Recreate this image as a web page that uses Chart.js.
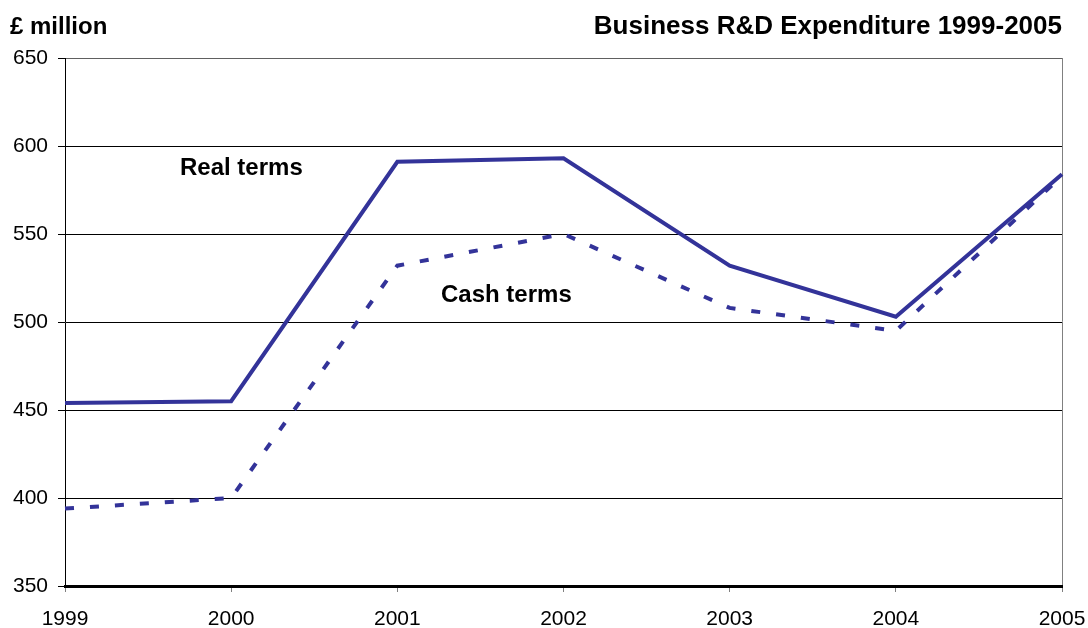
<!DOCTYPE html>
<html>
<head>
<meta charset="utf-8">
<script src="https://cdn.jsdelivr.net/npm/chart.js@4/dist/chart.umd.min.js"></script>
<style>
  html, body { margin: 0; padding: 0; background: #fff; }
  #wrap { width: 1088px; height: 628px; position: relative; }
</style>
</head>
<body>
<div id="wrap"><canvas id="chartCanvas" width="1088" height="628"></canvas></div>
<script>
// Chart data
const years = ['1999', '2000', '2001', '2002', '2003', '2004', '2005'];
const realTerms = [454, 455, 591, 593, 532, 503, 584];
const cashTerms = [394, 400, 532, 550, 508, 495, 583];
const yTicks = [350, 400, 450, 500, 550, 600, 650];

const lineColor = '#333399';
const font = 'Liberation Sans, Arial, sans-serif';

// Draws the titles and the in-plot labels
const textPlugin = {
    id: 'chartText',
    afterDraw(chart) {
        const ctx = chart.ctx;
        const area = chart.chartArea;
        ctx.save();
        ctx.fillStyle = '#000';
        ctx.textBaseline = 'middle';
        ctx.font = 'bold 24px ' + font;
        ctx.textAlign = 'left';
        ctx.fillText('£ million', 10, 27);
        ctx.fillText('Real terms', 180, 168);
        ctx.fillText('Cash terms', 441, 295);
        ctx.font = 'bold 26px ' + font;
        ctx.textAlign = 'right';
        ctx.fillText('Business R&D Expenditure 1999-2005', area.right, 27);
        ctx.restore();
    }
};

const config = {
    type: 'line',
    data: {
        labels: years,
        datasets: [{
            label: 'Real terms',
            data: realTerms,
            borderColor: lineColor,
            borderWidth: 4,
            pointRadius: 0,
            tension: 0,
            fill: false
        }, {
            label: 'Cash terms',
            data: cashTerms,
            borderColor: lineColor,
            borderWidth: 4,
            borderDash: [9, 16],
            pointRadius: 0,
            tension: 0,
            fill: false
        }]
    },
    options: {
        responsive: false,
        animation: false,
        layout: {
            padding: { top: 58, right: 26, left: 0, bottom: 0 }
        },
        plugins: {
            legend: { display: false },
            tooltip: { enabled: false },
            title: { display: false }
        },
        scales: {
            x: {
                offset: false,
                grid: {
                    offset: false,
                    drawOnChartArea: true,
                    color: c => c.index === years.length - 1 ? '#808080' : 'rgba(0,0,0,0)',
                    tickColor: '#808080',
                    tickLength: 6,
                    lineWidth: 1
                },
                border: { color: '#000', width: 3 },
                ticks: {
                    color: '#000',
                    font: { family: font, size: 21 },
                    padding: 15,
                    maxRotation: 0,
                    autoSkip: false
                },
                afterFit: scale => {
                    scale.height = 42;
                    scale.paddingLeft = 0;
                    scale.paddingRight = 0;
                }
            },
            y: {
                min: 350,
                max: 650,
                afterBuildTicks: scale => { scale.ticks = yTicks.map(v => ({ value: v })); },
                grid: {
                    color: c => c.tick && c.tick.value === 650 ? '#606060' : '#000',
                    tickColor: '#000',
                    tickLength: 7,
                    lineWidth: 1
                },
                border: { color: '#000', width: 1 },
                ticks: {
                    color: '#000',
                    font: { family: font, size: 21 },
                    padding: 10
                },
                afterFit: scale => {
                    scale.width = 65;
                    scale.paddingTop = 0;
                    scale.paddingBottom = 0;
                }
            }
        }
    },
    plugins: [textPlugin]
};

const chart = new Chart(document.getElementById('chartCanvas').getContext('2d'), config);
</script>
</body>
</html>
